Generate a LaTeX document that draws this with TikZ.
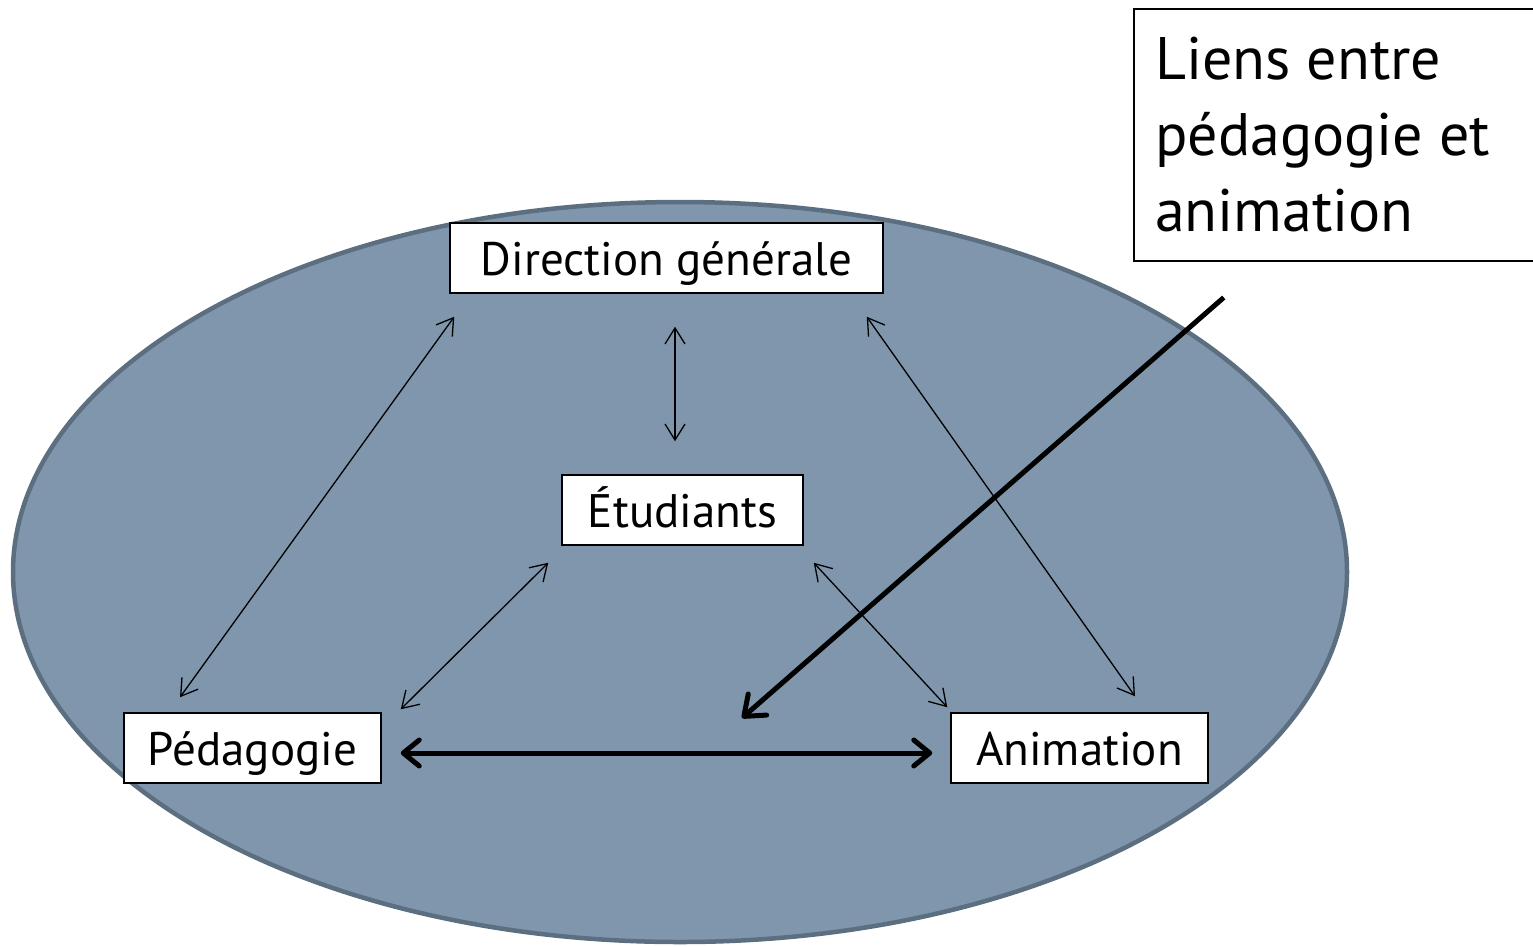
\documentclass[tikz,border=0pt]{standalone}
\usepackage{fontspec}
\setmainfont{PT Sans}
\usetikzlibrary{arrows.meta,calc}
\definecolor{ellfill}{HTML}{7F96AC}
\definecolor{elledge}{HTML}{5C6F81}
\begin{document}
\begin{tikzpicture}[x=1pt,y=-1pt,
  box/.style={draw=black,line width=1.5pt,fill=white,inner sep=0pt,
    text height=34pt,text depth=0pt,font=\fontsize{47}{54}\selectfont},
  thin/.style={line width=1.3pt,{Straight Barb[length=16pt,width=20pt]}-{Straight Barb[length=16pt,width=20pt]}},
  thick/.style={line width=5pt,{Straight Barb[length=16pt,width=26pt,round]}-{Straight Barb[length=16pt,width=26pt,round]}},
  pointer/.style={line width=5pt,-{Straight Barb[length=18pt,width=28pt,round]}}]
\useasboundingbox (0,0) rectangle (1533,946);
\fill[white] (0,0) rectangle (1533,946);
\draw[fill=ellfill,draw=elledge,line width=4.5pt] (680,572) ellipse [x radius=667,y radius=370];
\node[box,minimum width=433pt,minimum height=70pt] (dir) at (666.5,258) {Direction générale};
\node[box,minimum width=241pt,minimum height=70pt] (etu) at (682.5,510) {Étudiants};
\node[box,minimum width=257pt,minimum height=70pt] (ped) at (252.5,748) {Pédagogie};
\node[box,minimum width=257pt,minimum height=70pt] (ani) at (1079.5,748) {Animation};
\node[draw=black,line width=1.5pt,fill=white,anchor=north west,inner sep=0pt,
  minimum width=402pt,minimum height=252pt] (liens) at (1133,8) {};
\node[anchor=north west,inner sep=0pt,align=left,font=\fontsize{60}{76}\selectfont] (liensT) at (1155,37)
  {Liens entre\\pédagogie et\\animation};
\coordinate (tip) at (742,718);
\draw[thin] ($(dir.south west)+(5,23)$) -- ($(ped.north)+(-72.5,-15)$);
\draw[thin] ($(dir.south)+(8.5,33)$) -- ($(etu.north)+(-7.5,-33)$);
\draw[thin] ($(dir.south east)+(-17,23)$) -- ($(ani.north)+(55.5,-16)$);
\draw[thin] ($(etu.south west)+(-13,17)$) -- ($(ped.north east)+(19,-3)$);
\draw[thin] ($(etu.south east)+(10,17)$) -- ($(ani.north west)+(-3,-5)$);
\draw[thick] ($(ped.east)+(19,5)$) -- ($(ani.west)+(-18,5)$);
\draw[pointer] ($(liens.south)+(-111,36)$) -- (tip);
\end{tikzpicture}
\end{document}
